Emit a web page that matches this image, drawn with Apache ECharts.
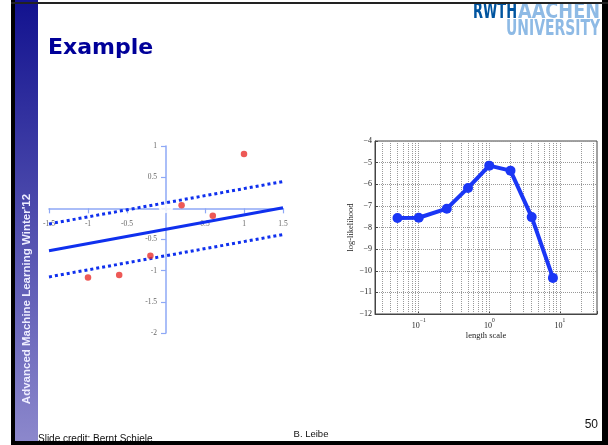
<!DOCTYPE html>
<html><head><meta charset="utf-8">
<script src="https://cdn.jsdelivr.net/npm/echarts@6/dist/echarts.min.js"></script>
<style>html,body{margin:0;padding:0;background:#fff}#c{width:608px;height:445px}</style>
</head><body><div id="c"></div>
<script>
// ---- Left chart (linear regression example) ----
const lineX = [-1.5, 1.5];
const meanY = [-0.68, 0.01];
const upperY = [-0.25, 0.43];
const lowerY = [-1.10, -0.42];
const pointsX = [-1.0, -0.6, -0.2, 0.2, 0.6, 1.0];
const pointsY = [-1.11, -1.07, -0.76, 0.05, -0.12, 0.87];
const originMark = [[0, 0]];

// ---- Right chart (log-likelihood vs length scale) ----
const lengthScale = [0.05, 0.1, 0.25, 0.5, 1, 2, 4, 8];
const logLik = [-7.56, -7.55, -7.13, -6.17, -5.14, -5.37, -7.52, -10.33];
const gridLinesX = [0.03, 0.04, 0.05, 0.06, 0.07, 0.08, 0.09,
  0.1, 0.2, 0.3, 0.4, 0.5, 0.6, 0.7, 0.8, 0.9,
  1, 2, 3, 4, 5, 6, 7, 8, 9, 10, 20, 30];

const zip = (a, b) => a.map((v, i) => [v, b[i]]);

// layout of left plot
const L = {left: 49, top: 146, width: 234, height: 187, xmin: -1.5, xmax: 1.5, ymin: -2, ymax: 1};
const zeroFromBottom = L.height * (0 - L.ymin) / (L.ymax - L.ymin);
const zeroFromLeft = L.width * (0 - L.xmin) / (L.xmax - L.xmin);

// logo text fitting
const mctx = document.createElement('canvas').getContext('2d');
function fitScale(text, font, target) {
  mctx.font = font;
  return target / mctx.measureText(text).width;
}
const logoFont = 'bold 21px "Liberation Sans Narrow", "DejaVu Sans Condensed", "DejaVu Sans"';

const chart = echarts.init(document.getElementById('c'), null, {renderer: 'canvas'});
const axisBlue = '#8ea8f6';
const leftLabel = {fontFamily: 'Liberation Serif', fontSize: 7.5, color: '#666'};
const serif = 'Liberation Serif';

chart.setOption({
  animation: false,
  backgroundColor: '#ffffff',
  grid: [
    {left: L.left, top: L.top, width: L.width, height: L.height},
    {left: 375, top: 141, width: 222, height: 173, show: true, borderColor: '#444', borderWidth: 1, backgroundColor: 'transparent'}
  ],
  xAxis: [
    {gridIndex: 0, type: 'value', min: L.xmin, max: L.xmax, interval: 0.5, offset: -zeroFromBottom,
      axisLine: {onZero: false, lineStyle: {color: axisBlue, width: 1.5}},
      axisTick: {show: true, length: 5, lineStyle: {color: axisBlue, width: 1.2}},
      axisLabel: Object.assign({margin: 12, formatter: v => v === 0 ? '' : String(v)}, leftLabel),
      splitLine: {show: false}},
    {gridIndex: 1, type: 'log', logBase: 10, min: 0.024, max: 33.7,
      axisLine: {lineStyle: {color: '#444'}},
      axisTick: {show: true, inside: true, length: 3, lineStyle: {color: '#444'}},
      splitLine: {show: false},
      name: 'length scale', nameLocation: 'middle', nameGap: 17,
      nameTextStyle: {fontFamily: serif, fontSize: 8.5, color: '#222'},
      axisLabel: {margin: 4, color: '#222', fontFamily: serif,
        formatter: v => {
          const e = Math.log10(v);
          const r = Math.round(e);
          if (Math.abs(e - r) > 1e-6) return '';
          return '{b|10}{s|' + String(r).replace('-', '\u2212') + '}';
        },
        rich: {
          b: {fontFamily: serif, fontSize: 8, color: '#222', lineHeight: 12, verticalAlign: 'bottom'},
          s: {fontFamily: serif, fontSize: 5.5, color: '#222', lineHeight: 12, verticalAlign: 'top'}
        }}}
  ],
  yAxis: [
    {gridIndex: 0, type: 'value', min: L.ymin, max: L.ymax, interval: 0.5, offset: -zeroFromLeft,
      axisLine: {onZero: false, lineStyle: {color: axisBlue, width: 1.5}},
      axisTick: {show: true, length: 5, lineStyle: {color: axisBlue, width: 1.2}},
      axisLabel: Object.assign({margin: 9, formatter: v => v === 0 ? '' : String(v)}, leftLabel),
      splitLine: {show: false}},
    {gridIndex: 1, type: 'value', min: -12, max: -4, interval: 1,
      axisLine: {lineStyle: {color: '#444'}},
      axisTick: {show: true, inside: true, length: 3, lineStyle: {color: '#444'}},
      axisLabel: {margin: 3, fontFamily: serif, fontSize: 8, color: '#222',
        formatter: v => String(v).replace('-', '\u2212')},
      splitLine: {show: true, lineStyle: {type: 'dotted', color: '#999', width: 1}},
      name: 'log-likelihood', nameLocation: 'middle', nameGap: 20,
      nameTextStyle: {fontFamily: serif, fontSize: 8.5, color: '#222'}}
  ],
  series: [
    {name: 'mean', type: 'line', xAxisIndex: 0, yAxisIndex: 0, data: zip(lineX, meanY),
      showSymbol: false, lineStyle: {color: '#0f30ee', width: 3}, z: 3, silent: true},
    {name: 'upper', type: 'line', xAxisIndex: 0, yAxisIndex: 0, data: zip(lineX, upperY),
      showSymbol: false, lineStyle: {color: '#0f30ee', width: 3, type: [3, 3]}, z: 3, silent: true},
    {name: 'lower', type: 'line', xAxisIndex: 0, yAxisIndex: 0, data: zip(lineX, lowerY),
      showSymbol: false, lineStyle: {color: '#0f30ee', width: 3, type: [3, 3]}, z: 3, silent: true},
    {name: 'origin', type: 'scatter', xAxisIndex: 0, yAxisIndex: 0, data: originMark,
      symbol: 'emptyCircle', symbolSize: [12, 8], itemStyle: {color: '#fff', borderColor: '#a9bdf8', borderWidth: 1}, z: 2, silent: true},
    {name: 'data', type: 'scatter', xAxisIndex: 0, yAxisIndex: 0, data: zip(pointsX, pointsY),
      symbol: 'circle', symbolSize: 6.5, itemStyle: {color: '#e8302c'}, z: 4, silent: true},
    {name: 'grid', type: 'line', xAxisIndex: 1, yAxisIndex: 1, data: zip(lengthScale, logLik),
      showSymbol: false, lineStyle: {opacity: 0}, z: 1, silent: true,
      markLine: {silent: true, symbol: 'none', label: {show: false}, animation: false,
        lineStyle: {type: 'dotted', color: '#999', width: 1},
        data: gridLinesX.map(v => ({xAxis: v}))}},
    {name: 'loglik', type: 'line', xAxisIndex: 1, yAxisIndex: 1, data: zip(lengthScale, logLik),
      symbol: 'circle', symbolSize: 10, showAllSymbol: true,
      lineStyle: {color: '#1a36f5', width: 4}, itemStyle: {color: '#1a36f5'}, z: 5, silent: true}
  ],
  graphic: [
    {type: 'rect', shape: {x: 15, y: 0, width: 23, height: 442}, z: 10,
      style: {fill: new echarts.graphic.LinearGradient(0, 0, 0, 1, [
        {offset: 0, color: '#12128f'}, {offset: 1, color: '#8c88cc'}])}},
    {type: 'text', x: 26.5, y: 299, rotation: Math.PI / 2, z: 11,
      style: {text: "Advanced Machine Learning Winter'12", font: 'bold 11.5px "Liberation Sans"',
        fill: '#eeeeff', align: 'center', verticalAlign: 'middle'}},
    {type: 'text', x: 48, y: 48, z: 11,
      style: {text: 'Example', font: 'bold 22px "DejaVu Sans"', fill: '#000099', align: 'left', verticalAlign: 'middle'}},
    {type: 'text', x: 473, y: 13, z: 11, scaleX: fitScale('RWTH', logoFont, 44),
      style: {text: 'RWTH', font: logoFont, fill: '#00549f', align: 'left', verticalAlign: 'middle'}},
    {type: 'text', x: 600, y: 13, z: 11, scaleX: fitScale('AACHEN', logoFont, 82),
      style: {text: 'AACHEN', font: logoFont, fill: '#8ebae5', align: 'right', verticalAlign: 'middle'}},
    {type: 'text', x: 600, y: 30, z: 11, scaleX: fitScale('UNIVERSITY', logoFont, 94),
      style: {text: 'UNIVERSITY', font: logoFont, fill: '#8ebae5', align: 'right', verticalAlign: 'middle'}},
    {type: 'text', x: 38, y: 439, z: 11,
      style: {text: 'Slide credit: Bernt Schiele', font: '10px "Liberation Sans"', fill: '#111', align: 'left', verticalAlign: 'middle'}},
    {type: 'text', x: 311, y: 434, z: 11,
      style: {text: 'B. Leibe', font: '9.5px "Liberation Sans"', fill: '#111', align: 'center', verticalAlign: 'middle'}},
    {type: 'text', x: 598, y: 425, z: 11,
      style: {text: '50', font: '12px "Liberation Sans"', fill: '#111', align: 'right', verticalAlign: 'middle'}},
    {type: 'rect', shape: {x: 11, y: 0, width: 4, height: 445}, z: 12, style: {fill: '#000'}},
    {type: 'rect', shape: {x: 602, y: 0, width: 6, height: 445}, z: 12, style: {fill: '#000'}},
    {type: 'rect', shape: {x: 11, y: 441, width: 597, height: 4}, z: 12, style: {fill: '#000'}},
    {type: 'rect', shape: {x: 11, y: 2, width: 597, height: 2}, z: 12, style: {fill: '#222'}}
  ]
});
</script></body></html>
